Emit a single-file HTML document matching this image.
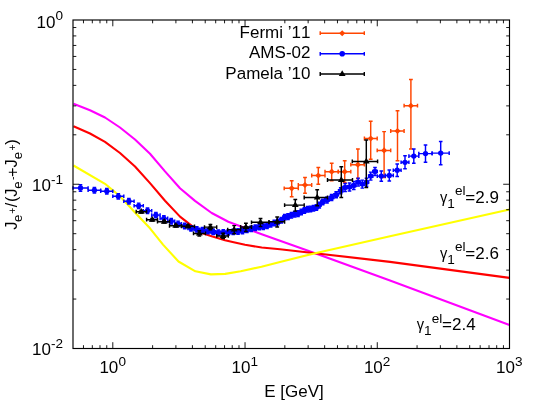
<!DOCTYPE html>
<html><head><meta charset="utf-8"><title>plot</title><style>html,body{margin:0;padding:0;background:#fff;}body{width:540px;height:403px;overflow:hidden;position:relative;font-family:"Liberation Sans",sans-serif;}</style></head><body>
<svg width="540" height="403" viewBox="0 0 540 403" style="position:absolute;left:0;top:0;will-change:transform">
<rect width="540" height="403" fill="#fff"/>
<path d="M73.5 103.8 L90.0 110.2 L105.0 117.5 L120.0 127.5 L135.0 139.5 L150.0 153.8 L165.0 171.4 L180.0 188.2 L195.0 200.9 L211.7 213.0 L228.3 221.8 L245.0 227.9 L261.7 234.2 L280.0 240.7 L315.1 253.2 L390.0 280.4 L509.5 325.0" fill="none" stroke="#ff00ff" stroke-width="2.1" stroke-linejoin="round"/>
<path d="M73.5 126.2 L90.0 133.5 L105.0 141.8 L120.0 153.0 L135.0 166.5 L150.0 183.1 L165.0 200.8 L180.0 216.6 L192.5 226.3 L203.3 233.6 L211.7 236.3 L225.0 240.2 L233.7 242.3 L245.0 244.8 L261.7 247.5 L280.0 249.2 L315.1 253.2 L390.0 261.9 L509.5 277.9" fill="none" stroke="#ff0000" stroke-width="2.1" stroke-linejoin="round"/>
<path d="M73.5 165.5 L105.0 183.8 L120.0 196.2 L135.0 212.5 L150.0 228.3 L163.0 244.6 L178.5 261.5 L195.4 271.3 L210.9 274.4 L225.2 273.9 L240.7 271.3 L261.5 266.7 L280.0 262.0 L315.1 253.2 L390.0 236.2 L509.5 209.6" fill="none" stroke="#ffff00" stroke-width="2.1" stroke-linejoin="round"/>
<path d="M284.2 188.3 H298.3 M284.2 186.4 V190.2 M298.3 186.4 V190.2 M291.7 180.8 V196.7 M289.8 180.8 H293.6 M289.8 196.7 H293.6" fill="none" stroke="#ff4500" stroke-width="1.45"/>
<path d="M288.6 188.3 L291.7 185.2 L294.8 188.3 L291.7 191.4 Z" fill="#ff4500"/>
<path d="M298.3 185.0 H311.7 M298.3 183.1 V186.9 M311.7 183.1 V186.9 M305.0 177.5 V193.3 M303.1 177.5 H306.9 M303.1 193.3 H306.9" fill="none" stroke="#ff4500" stroke-width="1.45"/>
<path d="M301.9 185.0 L305.0 181.9 L308.1 185.0 L305.0 188.1 Z" fill="#ff4500"/>
<path d="M311.7 175.5 H325.0 M311.7 173.6 V177.4 M325.0 173.6 V177.4 M318.3 167.5 V184.2 M316.4 167.5 H320.2 M316.4 184.2 H320.2" fill="none" stroke="#ff4500" stroke-width="1.45"/>
<path d="M315.2 175.5 L318.3 172.4 L321.4 175.5 L318.3 178.6 Z" fill="#ff4500"/>
<path d="M325.0 171.7 H338.3 M325.0 169.8 V173.6 M338.3 169.8 V173.6 M331.7 163.3 V180.8 M329.8 163.3 H333.6 M329.8 180.8 H333.6" fill="none" stroke="#ff4500" stroke-width="1.45"/>
<path d="M328.6 171.7 L331.7 168.6 L334.8 171.7 L331.7 174.8 Z" fill="#ff4500"/>
<path d="M338.3 171.7 H350.8 M338.3 169.8 V173.6 M350.8 169.8 V173.6 M344.7 160.8 V182.5 M342.8 160.8 H346.6 M342.8 182.5 H346.6" fill="none" stroke="#ff4500" stroke-width="1.45"/>
<path d="M341.6 171.7 L344.7 168.6 L347.8 171.7 L344.7 174.8 Z" fill="#ff4500"/>
<path d="M350.8 164.7 H364.4 M350.8 162.8 V166.6 M364.4 162.8 V166.6 M357.9 148.9 V178.5 M356.0 148.9 H359.8 M356.0 178.5 H359.8" fill="none" stroke="#ff4500" stroke-width="1.45"/>
<path d="M354.8 164.7 L357.9 161.6 L360.9 164.7 L357.9 167.8 Z" fill="#ff4500"/>
<path d="M364.4 138.5 H377.2 M364.4 136.6 V140.4 M377.2 136.6 V140.4 M370.7 121.2 V159.3 M368.8 121.2 H372.6 M368.8 159.3 H372.6" fill="none" stroke="#ff4500" stroke-width="1.45"/>
<path d="M367.6 138.5 L370.7 135.4 L373.8 138.5 L370.7 141.6 Z" fill="#ff4500"/>
<path d="M377.2 150.4 H390.7 M377.2 148.5 V152.3 M390.7 148.5 V152.3 M384.1 131.6 V177.5 M382.2 131.6 H386.0 M382.2 177.5 H386.0" fill="none" stroke="#ff4500" stroke-width="1.45"/>
<path d="M381.1 150.4 L384.1 147.3 L387.2 150.4 L384.1 153.5 Z" fill="#ff4500"/>
<path d="M390.7 131.0 H404.1 M390.7 129.1 V132.9 M404.1 129.1 V132.9 M397.5 110.8 V160.8 M395.6 110.8 H399.4 M395.6 160.8 H399.4" fill="none" stroke="#ff4500" stroke-width="1.45"/>
<path d="M394.4 131.0 L397.5 128.0 L400.6 131.0 L397.5 134.1 Z" fill="#ff4500"/>
<path d="M404.1 105.7 H417.5 M404.1 103.8 V107.6 M417.5 103.8 V107.6 M410.9 79.5 V148.9 M409.0 79.5 H412.8 M409.0 148.9 H412.8" fill="none" stroke="#ff4500" stroke-width="1.45"/>
<path d="M407.8 105.7 L410.9 102.7 L413.9 105.7 L410.9 108.8 Z" fill="#ff4500"/>
<path d="M73.0 188.0 H88.1 M73.0 186.2 V189.8 M88.1 186.2 V189.8 M80.5 184.8 V191.2 M78.7 184.8 H82.3 M78.7 191.2 H82.3" fill="none" stroke="#0000ff" stroke-width="1.45"/>
<path d="M88.1 190.2 H100.7 M88.1 188.4 V192.0 M100.7 188.4 V192.0 M94.4 187.5 V192.9 M92.6 187.5 H96.2 M92.6 192.9 H96.2" fill="none" stroke="#0000ff" stroke-width="1.45"/>
<path d="M100.7 191.2 H112.8 M100.7 189.4 V193.0 M112.8 189.4 V193.0 M106.8 188.5 V193.9 M105.0 188.5 H108.6 M105.0 193.9 H108.6" fill="none" stroke="#0000ff" stroke-width="1.45"/>
<path d="M112.8 196.3 H123.8 M112.8 194.5 V198.1 M123.8 194.5 V198.1 M118.3 193.6 V199.0 M116.5 193.6 H120.1 M116.5 199.0 H120.1" fill="none" stroke="#0000ff" stroke-width="1.45"/>
<path d="M123.8 201.2 H134.1 M123.8 199.4 V203.0 M134.1 199.4 V203.0 M128.9 198.5 V203.9 M127.1 198.5 H130.7 M127.1 203.9 H130.7" fill="none" stroke="#0000ff" stroke-width="1.45"/>
<path d="M134.1 205.8 H143.3 M134.1 204.0 V207.6 M143.3 204.0 V207.6 M138.7 203.1 V208.5 M136.9 203.1 H140.5 M136.9 208.5 H140.5" fill="none" stroke="#0000ff" stroke-width="1.45"/>
<path d="M143.3 210.7 H151.7 M143.3 208.9 V212.5 M151.7 208.9 V212.5 M147.5 208.0 V213.4 M145.7 208.0 H149.3 M145.7 213.4 H149.3" fill="none" stroke="#0000ff" stroke-width="1.45"/>
<path d="M151.7 215.1 H160.1 M151.7 213.3 V216.9 M160.1 213.3 V216.9 M155.9 212.4 V217.8 M154.1 212.4 H157.7 M154.1 217.8 H157.7" fill="none" stroke="#0000ff" stroke-width="1.45"/>
<path d="M160.1 218.4 H167.7 M160.1 216.6 V220.2 M167.7 216.6 V220.2 M163.9 215.7 V221.1 M162.1 215.7 H165.7 M162.1 221.1 H165.7" fill="none" stroke="#0000ff" stroke-width="1.45"/>
<path d="M167.7 221.2 H174.7 M167.7 219.4 V223.0 M174.7 219.4 V223.0 M171.2 218.5 V223.9 M169.4 218.5 H173.0 M169.4 223.9 H173.0" fill="none" stroke="#0000ff" stroke-width="1.45"/>
<path d="M174.7 223.8 H181.4 M174.7 222.0 V225.6 M181.4 222.0 V225.6 M178.1 221.1 V226.5 M176.3 221.1 H179.9 M176.3 226.5 H179.9" fill="none" stroke="#0000ff" stroke-width="1.45"/>
<path d="M181.4 226.0 H187.9 M181.4 224.2 V227.8 M187.9 224.2 V227.8 M184.7 223.3 V228.7 M182.9 223.3 H186.5 M182.9 228.7 H186.5" fill="none" stroke="#0000ff" stroke-width="1.45"/>
<path d="M187.9 228.4 H194.0 M187.9 226.6 V230.2 M194.0 226.6 V230.2 M191.0 225.7 V231.1 M189.2 225.7 H192.8 M189.2 231.1 H192.8" fill="none" stroke="#0000ff" stroke-width="1.45"/>
<path d="M194.0 229.4 H199.7 M194.0 227.6 V231.2 M199.7 227.6 V231.2 M196.8 226.7 V232.1 M195.0 226.7 H198.6 M195.0 232.1 H198.6" fill="none" stroke="#0000ff" stroke-width="1.45"/>
<path d="M199.7 230.1 H205.2 M199.7 228.3 V231.9 M205.2 228.3 V231.9 M202.5 227.4 V232.8 M200.7 227.4 H204.3 M200.7 232.8 H204.3" fill="none" stroke="#0000ff" stroke-width="1.45"/>
<path d="M205.2 231.1 H210.7 M205.2 229.3 V232.9 M210.7 229.3 V232.9 M208.0 228.4 V233.8 M206.2 228.4 H209.8 M206.2 233.8 H209.8" fill="none" stroke="#0000ff" stroke-width="1.45"/>
<path d="M210.7 231.9 H215.7 M210.7 230.1 V233.7 M215.7 230.1 V233.7 M213.2 229.2 V234.6 M211.4 229.2 H215.0 M211.4 234.6 H215.0" fill="none" stroke="#0000ff" stroke-width="1.45"/>
<path d="M215.7 232.6 H220.8 M215.7 230.8 V234.4 M220.8 230.8 V234.4 M218.3 229.9 V235.3 M216.5 229.9 H220.1 M216.5 235.3 H220.1" fill="none" stroke="#0000ff" stroke-width="1.45"/>
<path d="M220.8 232.4 H225.9 M220.8 230.6 V234.2 M225.9 230.6 V234.2 M223.3 229.7 V235.1 M221.5 229.7 H225.1 M221.5 235.1 H225.1" fill="none" stroke="#0000ff" stroke-width="1.45"/>
<path d="M225.9 232.4 H230.8 M225.9 230.6 V234.2 M230.8 230.6 V234.2 M228.3 229.7 V235.1 M226.5 229.7 H230.1 M226.5 235.1 H230.1" fill="none" stroke="#0000ff" stroke-width="1.45"/>
<path d="M230.8 231.9 H235.7 M230.8 230.1 V233.7 M235.7 230.1 V233.7 M233.2 229.2 V234.6 M231.4 229.2 H235.0 M231.4 234.6 H235.0" fill="none" stroke="#0000ff" stroke-width="1.45"/>
<path d="M235.7 231.5 H240.3 M235.7 229.7 V233.3 M240.3 229.7 V233.3 M238.0 228.8 V234.2 M236.2 228.8 H239.8 M236.2 234.2 H239.8" fill="none" stroke="#0000ff" stroke-width="1.45"/>
<path d="M240.3 231.0 H244.7 M240.3 229.2 V232.8 M244.7 229.2 V232.8 M242.5 228.3 V233.7 M240.7 228.3 H244.3 M240.7 233.7 H244.3" fill="none" stroke="#0000ff" stroke-width="1.45"/>
<path d="M244.7 229.9 H249.1 M244.7 228.1 V231.7 M249.1 228.1 V231.7 M246.9 227.2 V232.6 M245.1 227.2 H248.7 M245.1 232.6 H248.7" fill="none" stroke="#0000ff" stroke-width="1.45"/>
<path d="M249.1 228.7 H253.3 M249.1 226.9 V230.5 M253.3 226.9 V230.5 M251.2 226.0 V231.4 M249.4 226.0 H253.0 M249.4 231.4 H253.0" fill="none" stroke="#0000ff" stroke-width="1.45"/>
<path d="M253.3 227.7 H257.3 M253.3 225.9 V229.5 M257.3 225.9 V229.5 M255.3 225.0 V230.4 M253.5 225.0 H257.1 M253.5 230.4 H257.1" fill="none" stroke="#0000ff" stroke-width="1.45"/>
<path d="M257.3 227.0 H261.3 M257.3 225.2 V228.8 M261.3 225.2 V228.8 M259.3 224.3 V229.7 M257.5 224.3 H261.1 M257.5 229.7 H261.1" fill="none" stroke="#0000ff" stroke-width="1.45"/>
<path d="M261.3 226.7 H265.1 M261.3 224.9 V228.5 M265.1 224.9 V228.5 M263.2 224.0 V229.4 M261.4 224.0 H265.0 M261.4 229.4 H265.0" fill="none" stroke="#0000ff" stroke-width="1.45"/>
<path d="M265.1 225.7 H268.9 M265.1 223.9 V227.5 M268.9 223.9 V227.5 M267.0 223.0 V228.4 M265.2 223.0 H268.8 M265.2 228.4 H268.8" fill="none" stroke="#0000ff" stroke-width="1.45"/>
<path d="M268.9 224.3 H272.6 M268.9 222.5 V226.1 M272.6 222.5 V226.1 M270.7 221.6 V227.0 M268.9 221.6 H272.5 M268.9 227.0 H272.5" fill="none" stroke="#0000ff" stroke-width="1.45"/>
<path d="M272.6 223.0 H276.1 M272.6 221.2 V224.8 M276.1 221.2 V224.8 M274.3 220.3 V225.7 M272.5 220.3 H276.1 M272.5 225.7 H276.1" fill="none" stroke="#0000ff" stroke-width="1.45"/>
<path d="M276.1 222.0 H279.6 M276.1 220.2 V223.8 M279.6 220.2 V223.8 M277.8 219.3 V224.7 M276.0 219.3 H279.6 M276.0 224.7 H279.6" fill="none" stroke="#0000ff" stroke-width="1.45"/>
<path d="M279.6 220.2 H283.0 M279.6 218.4 V222.0 M283.0 218.4 V222.0 M281.3 217.5 V222.9 M279.5 217.5 H283.1 M279.5 222.9 H283.1" fill="none" stroke="#0000ff" stroke-width="1.45"/>
<path d="M283.0 217.1 H286.4 M283.0 215.3 V218.9 M286.4 215.3 V218.9 M284.7 214.4 V219.8 M282.9 214.4 H286.5 M282.9 219.8 H286.5" fill="none" stroke="#0000ff" stroke-width="1.45"/>
<path d="M286.4 216.6 H289.7 M286.4 214.8 V218.4 M289.7 214.8 V218.4 M288.0 213.8 V219.4 M286.2 213.8 H289.8 M286.2 219.4 H289.8" fill="none" stroke="#0000ff" stroke-width="1.45"/>
<path d="M289.7 215.3 H293.0 M289.7 213.5 V217.1 M293.0 213.5 V217.1 M291.4 212.5 V218.1 M289.6 212.5 H293.2 M289.6 218.1 H293.2" fill="none" stroke="#0000ff" stroke-width="1.45"/>
<path d="M293.0 214.3 H296.4 M293.0 212.5 V216.1 M296.4 212.5 V216.1 M294.7 211.5 V217.1 M292.9 211.5 H296.5 M292.9 217.1 H296.5" fill="none" stroke="#0000ff" stroke-width="1.45"/>
<path d="M296.4 213.6 H299.6 M296.4 211.8 V215.4 M299.6 211.8 V215.4 M298.0 210.8 V216.4 M296.2 210.8 H299.8 M296.2 216.4 H299.8" fill="none" stroke="#0000ff" stroke-width="1.45"/>
<path d="M299.6 211.9 H302.8 M299.6 210.1 V213.7 M302.8 210.1 V213.7 M301.2 209.1 V214.7 M299.4 209.1 H303.0 M299.4 214.7 H303.0" fill="none" stroke="#0000ff" stroke-width="1.45"/>
<path d="M302.8 210.4 H305.9 M302.8 208.6 V212.2 M305.9 208.6 V212.2 M304.4 207.6 V213.2 M302.6 207.6 H306.2 M302.6 213.2 H306.2" fill="none" stroke="#0000ff" stroke-width="1.45"/>
<path d="M305.9 209.3 H309.0 M305.9 207.5 V211.1 M309.0 207.5 V211.1 M307.5 206.5 V212.1 M305.7 206.5 H309.3 M305.7 212.1 H309.3" fill="none" stroke="#0000ff" stroke-width="1.45"/>
<path d="M309.0 208.9 H312.0 M309.0 207.1 V210.7 M312.0 207.1 V210.7 M310.5 206.1 V211.7 M308.7 206.1 H312.3 M308.7 211.7 H312.3" fill="none" stroke="#0000ff" stroke-width="1.45"/>
<path d="M312.0 208.2 H315.0 M312.0 206.4 V210.0 M315.0 206.4 V210.0 M313.5 205.4 V211.0 M311.7 205.4 H315.3 M311.7 211.0 H315.3" fill="none" stroke="#0000ff" stroke-width="1.45"/>
<path d="M315.0 207.4 H317.9 M315.0 205.6 V209.2 M317.9 205.6 V209.2 M316.4 204.6 V210.2 M314.6 204.6 H318.2 M314.6 210.2 H318.2" fill="none" stroke="#0000ff" stroke-width="1.45"/>
<path d="M317.9 205.1 H320.8 M317.9 203.3 V206.9 M320.8 203.3 V206.9 M319.3 202.3 V207.9 M317.5 202.3 H321.1 M317.5 207.9 H321.1" fill="none" stroke="#0000ff" stroke-width="1.45"/>
<path d="M320.8 202.0 H324.6 M320.8 200.2 V203.8 M324.6 200.2 V203.8 M322.7 199.2 V204.8 M320.9 199.2 H324.5 M320.9 204.8 H324.5" fill="none" stroke="#0000ff" stroke-width="1.45"/>
<path d="M324.6 199.9 H329.3 M324.6 198.1 V201.7 M329.3 198.1 V201.7 M327.0 196.9 V202.9 M325.2 196.9 H328.8 M325.2 202.9 H328.8" fill="none" stroke="#0000ff" stroke-width="1.45"/>
<path d="M329.3 197.5 H333.9 M329.3 195.7 V199.3 M333.9 195.7 V199.3 M331.6 194.5 V200.5 M329.8 194.5 H333.4 M329.8 200.5 H333.4" fill="none" stroke="#0000ff" stroke-width="1.45"/>
<path d="M333.9 194.7 H338.5 M333.9 192.9 V196.5 M338.5 192.9 V196.5 M336.2 191.7 V197.7 M334.4 191.7 H338.0 M334.4 197.7 H338.0" fill="none" stroke="#0000ff" stroke-width="1.45"/>
<path d="M338.5 190.8 H342.9 M338.5 189.0 V192.6 M342.9 189.0 V192.6 M340.7 187.8 V193.8 M338.9 187.8 H342.5 M338.9 193.8 H342.5" fill="none" stroke="#0000ff" stroke-width="1.45"/>
<path d="M342.9 187.5 H347.3 M342.9 185.7 V189.3 M347.3 185.7 V189.3 M345.1 183.5 V191.5 M343.3 183.5 H346.9 M343.3 191.5 H346.9" fill="none" stroke="#0000ff" stroke-width="1.45"/>
<path d="M347.3 186.9 H351.7 M347.3 185.1 V188.7 M351.7 185.1 V188.7 M349.5 182.9 V190.9 M347.7 182.9 H351.3 M347.7 190.9 H351.3" fill="none" stroke="#0000ff" stroke-width="1.45"/>
<path d="M351.7 185.5 H356.0 M351.7 183.7 V187.3 M356.0 183.7 V187.3 M353.8 181.5 V189.5 M352.0 181.5 H355.6 M352.0 189.5 H355.6" fill="none" stroke="#0000ff" stroke-width="1.45"/>
<path d="M356.0 182.1 H360.2 M356.0 180.3 V183.9 M360.2 180.3 V183.9 M358.1 178.1 V186.1 M356.3 178.1 H359.9 M356.3 186.1 H359.9" fill="none" stroke="#0000ff" stroke-width="1.45"/>
<path d="M360.2 184.1 H364.5 M360.2 182.3 V185.9 M364.5 182.3 V185.9 M362.3 180.1 V188.1 M360.5 180.1 H364.1 M360.5 188.1 H364.1" fill="none" stroke="#0000ff" stroke-width="1.45"/>
<path d="M364.5 182.2 H368.6 M364.5 180.4 V184.0 M368.6 180.4 V184.0 M366.5 178.2 V186.2 M364.7 178.2 H368.3 M364.7 186.2 H368.3" fill="none" stroke="#0000ff" stroke-width="1.45"/>
<path d="M368.6 176.1 H372.8 M368.6 174.3 V177.9 M372.8 174.3 V177.9 M370.7 172.1 V180.1 M368.9 172.1 H372.5 M368.9 180.1 H372.5" fill="none" stroke="#0000ff" stroke-width="1.45"/>
<path d="M372.8 171.5 H377.3 M372.8 169.7 V173.3 M377.3 169.7 V173.3 M375.0 167.5 V175.5 M373.2 167.5 H376.8 M373.2 175.5 H376.8" fill="none" stroke="#0000ff" stroke-width="1.45"/>
<path d="M377.3 176.1 H385.3 M377.3 174.3 V177.9 M385.3 174.3 V177.9 M381.3 170.9 V181.3 M379.5 170.9 H383.1 M379.5 181.3 H383.1" fill="none" stroke="#0000ff" stroke-width="1.45"/>
<path d="M385.3 175.4 H393.3 M385.3 173.6 V177.2 M393.3 173.6 V177.2 M389.3 169.9 V180.9 M387.5 169.9 H391.1 M387.5 180.9 H391.1" fill="none" stroke="#0000ff" stroke-width="1.45"/>
<path d="M393.3 170.2 H401.1 M393.3 168.4 V172.0 M401.1 168.4 V172.0 M397.2 164.0 V176.4 M395.4 164.0 H399.0 M395.4 176.4 H399.0" fill="none" stroke="#0000ff" stroke-width="1.45"/>
<path d="M401.1 162.3 H408.9 M401.1 160.5 V164.1 M408.9 160.5 V164.1 M405.0 155.8 V168.8 M403.2 155.8 H406.8 M403.2 168.8 H406.8" fill="none" stroke="#0000ff" stroke-width="1.45"/>
<path d="M408.9 156.1 H418.8 M408.9 154.3 V157.9 M418.8 154.3 V157.9 M413.8 148.9 V163.3 M412.0 148.9 H415.6 M412.0 163.3 H415.6" fill="none" stroke="#0000ff" stroke-width="1.45"/>
<path d="M418.8 153.6 H432.1 M418.8 151.8 V155.4 M432.1 151.8 V155.4 M425.5 145.0 V162.2 M423.7 145.0 H427.3 M423.7 162.2 H427.3" fill="none" stroke="#0000ff" stroke-width="1.45"/>
<path d="M432.1 153.1 H449.2 M432.1 151.3 V154.9 M449.2 151.3 V154.9 M440.7 141.5 V164.7 M438.9 141.5 H442.5 M438.9 164.7 H442.5" fill="none" stroke="#0000ff" stroke-width="1.45"/>
<circle cx="80.5" cy="188.0" r="2.65" fill="#0000ff"/>
<circle cx="94.4" cy="190.2" r="2.65" fill="#0000ff"/>
<circle cx="106.8" cy="191.2" r="2.65" fill="#0000ff"/>
<circle cx="118.3" cy="196.3" r="2.65" fill="#0000ff"/>
<circle cx="128.9" cy="201.2" r="2.65" fill="#0000ff"/>
<circle cx="138.7" cy="205.8" r="2.65" fill="#0000ff"/>
<circle cx="147.5" cy="210.7" r="2.65" fill="#0000ff"/>
<circle cx="155.9" cy="215.1" r="2.65" fill="#0000ff"/>
<circle cx="163.9" cy="218.4" r="2.65" fill="#0000ff"/>
<circle cx="171.2" cy="221.2" r="2.65" fill="#0000ff"/>
<circle cx="178.1" cy="223.8" r="2.65" fill="#0000ff"/>
<circle cx="184.7" cy="226.0" r="2.65" fill="#0000ff"/>
<circle cx="191.0" cy="228.4" r="2.65" fill="#0000ff"/>
<circle cx="196.8" cy="229.4" r="2.65" fill="#0000ff"/>
<circle cx="202.5" cy="230.1" r="2.65" fill="#0000ff"/>
<circle cx="208.0" cy="231.1" r="2.65" fill="#0000ff"/>
<circle cx="213.2" cy="231.9" r="2.65" fill="#0000ff"/>
<circle cx="218.3" cy="232.6" r="2.65" fill="#0000ff"/>
<circle cx="223.3" cy="232.4" r="2.65" fill="#0000ff"/>
<circle cx="228.3" cy="232.4" r="2.65" fill="#0000ff"/>
<circle cx="233.2" cy="231.9" r="2.65" fill="#0000ff"/>
<circle cx="238.0" cy="231.5" r="2.65" fill="#0000ff"/>
<circle cx="242.5" cy="231.0" r="2.65" fill="#0000ff"/>
<circle cx="246.9" cy="229.9" r="2.65" fill="#0000ff"/>
<circle cx="251.2" cy="228.7" r="2.65" fill="#0000ff"/>
<circle cx="255.3" cy="227.7" r="2.65" fill="#0000ff"/>
<circle cx="259.3" cy="227.0" r="2.65" fill="#0000ff"/>
<circle cx="263.2" cy="226.7" r="2.65" fill="#0000ff"/>
<circle cx="267.0" cy="225.7" r="2.65" fill="#0000ff"/>
<circle cx="270.7" cy="224.3" r="2.65" fill="#0000ff"/>
<circle cx="274.3" cy="223.0" r="2.65" fill="#0000ff"/>
<circle cx="277.8" cy="222.0" r="2.65" fill="#0000ff"/>
<circle cx="281.3" cy="220.2" r="2.65" fill="#0000ff"/>
<circle cx="284.7" cy="217.1" r="2.65" fill="#0000ff"/>
<circle cx="288.0" cy="216.6" r="2.65" fill="#0000ff"/>
<circle cx="291.4" cy="215.3" r="2.65" fill="#0000ff"/>
<circle cx="294.7" cy="214.3" r="2.65" fill="#0000ff"/>
<circle cx="298.0" cy="213.6" r="2.65" fill="#0000ff"/>
<circle cx="301.2" cy="211.9" r="2.65" fill="#0000ff"/>
<circle cx="304.4" cy="210.4" r="2.65" fill="#0000ff"/>
<circle cx="307.5" cy="209.3" r="2.65" fill="#0000ff"/>
<circle cx="310.5" cy="208.9" r="2.65" fill="#0000ff"/>
<circle cx="313.5" cy="208.2" r="2.65" fill="#0000ff"/>
<circle cx="316.4" cy="207.4" r="2.65" fill="#0000ff"/>
<circle cx="319.3" cy="205.1" r="2.65" fill="#0000ff"/>
<circle cx="322.7" cy="202.0" r="2.65" fill="#0000ff"/>
<circle cx="327.0" cy="199.9" r="2.65" fill="#0000ff"/>
<circle cx="331.6" cy="197.5" r="2.65" fill="#0000ff"/>
<circle cx="336.2" cy="194.7" r="2.65" fill="#0000ff"/>
<circle cx="340.7" cy="190.8" r="2.65" fill="#0000ff"/>
<circle cx="345.1" cy="187.5" r="2.65" fill="#0000ff"/>
<circle cx="349.5" cy="186.9" r="2.65" fill="#0000ff"/>
<circle cx="353.8" cy="185.5" r="2.65" fill="#0000ff"/>
<circle cx="358.1" cy="182.1" r="2.65" fill="#0000ff"/>
<circle cx="362.3" cy="184.1" r="2.65" fill="#0000ff"/>
<circle cx="366.5" cy="182.2" r="2.65" fill="#0000ff"/>
<circle cx="370.7" cy="176.1" r="2.65" fill="#0000ff"/>
<circle cx="375.0" cy="171.5" r="2.65" fill="#0000ff"/>
<circle cx="381.3" cy="176.1" r="2.65" fill="#0000ff"/>
<circle cx="389.3" cy="175.4" r="2.65" fill="#0000ff"/>
<circle cx="397.2" cy="170.2" r="2.65" fill="#0000ff"/>
<circle cx="405.0" cy="162.3" r="2.65" fill="#0000ff"/>
<circle cx="413.8" cy="156.1" r="2.65" fill="#0000ff"/>
<circle cx="425.5" cy="153.6" r="2.65" fill="#0000ff"/>
<circle cx="440.7" cy="153.1" r="2.65" fill="#0000ff"/>
<path d="M136.2 211.7 H146.6 M136.2 209.8 V213.6 M146.6 209.8 V213.6 M141.3 210.4 V213.0 M139.4 210.4 H143.2 M139.4 213.0 H143.2" fill="none" stroke="#000" stroke-width="1.45"/>
<path d="M137.9 213.7 L144.7 213.7 L141.3 208.0 Z" fill="#000"/>
<path d="M146.6 219.7 H157.5 M146.6 217.8 V221.6 M157.5 217.8 V221.6 M152.2 218.4 V221.0 M150.3 218.4 H154.1 M150.3 221.0 H154.1" fill="none" stroke="#000" stroke-width="1.45"/>
<path d="M148.8 221.7 L155.6 221.7 L152.2 216.0 Z" fill="#000"/>
<path d="M157.5 221.7 H169.5 M157.5 219.8 V223.6 M169.5 219.8 V223.6 M164.2 220.4 V223.0 M162.3 220.4 H166.1 M162.3 223.0 H166.1" fill="none" stroke="#000" stroke-width="1.45"/>
<path d="M160.8 223.7 L167.6 223.7 L164.2 218.0 Z" fill="#000"/>
<path d="M169.5 225.8 H181.5 M169.5 223.9 V227.7 M181.5 223.9 V227.7 M175.8 224.5 V227.1 M173.9 224.5 H177.7 M173.9 227.1 H177.7" fill="none" stroke="#000" stroke-width="1.45"/>
<path d="M172.4 227.8 L179.2 227.8 L175.8 222.1 Z" fill="#000"/>
<path d="M181.5 226.3 H194.5 M181.5 224.4 V228.2 M194.5 224.4 V228.2 M188.0 225.0 V227.6 M186.1 225.0 H189.9 M186.1 227.6 H189.9" fill="none" stroke="#000" stroke-width="1.45"/>
<path d="M184.6 228.3 L191.4 228.3 L188.0 222.6 Z" fill="#000"/>
<path d="M193.5 233.4 H205.5 M193.5 231.5 V235.3 M205.5 231.5 V235.3 M199.3 230.8 V236.0 M197.4 230.8 H201.2 M197.4 236.0 H201.2" fill="none" stroke="#000" stroke-width="1.45"/>
<path d="M195.9 235.4 L202.7 235.4 L199.3 229.7 Z" fill="#000"/>
<path d="M204.5 227.1 H216.7 M204.5 225.2 V229.0 M216.7 225.2 V229.0 M210.4 224.5 V229.7 M208.5 224.5 H212.3 M208.5 229.7 H212.3" fill="none" stroke="#000" stroke-width="1.45"/>
<path d="M207.0 229.1 L213.8 229.1 L210.4 223.4 Z" fill="#000"/>
<path d="M216.7 235.9 H228.3 M216.7 234.0 V237.8 M228.3 234.0 V237.8 M223.1 233.3 V238.5 M221.2 233.3 H225.0 M221.2 238.5 H225.0" fill="none" stroke="#000" stroke-width="1.45"/>
<path d="M219.7 237.9 L226.5 237.9 L223.1 232.2 Z" fill="#000"/>
<path d="M227.7 229.6 H240.6 M227.7 227.7 V231.5 M240.6 227.7 V231.5 M234.2 225.6 V233.7 M232.3 225.6 H236.1 M232.3 233.7 H236.1" fill="none" stroke="#000" stroke-width="1.45"/>
<path d="M230.8 231.6 L237.6 231.6 L234.2 225.9 Z" fill="#000"/>
<path d="M240.6 227.0 H251.5 M240.6 225.1 V228.9 M251.5 225.1 V228.9 M245.9 223.3 V231.5 M244.0 223.3 H247.8 M244.0 231.5 H247.8" fill="none" stroke="#000" stroke-width="1.45"/>
<path d="M242.5 229.0 L249.3 229.0 L245.9 223.3 Z" fill="#000"/>
<path d="M251.5 222.3 H269.0 M251.5 220.4 V224.2 M269.0 220.4 V224.2 M260.5 218.4 V226.6 M258.6 218.4 H262.4 M258.6 226.6 H262.4" fill="none" stroke="#000" stroke-width="1.45"/>
<path d="M257.1 224.3 L263.9 224.3 L260.5 218.6 Z" fill="#000"/>
<path d="M269.0 221.8 H284.6 M269.0 219.9 V223.7 M284.6 219.9 V223.7 M277.2 217.0 V227.0 M275.3 217.0 H279.1 M275.3 227.0 H279.1" fill="none" stroke="#000" stroke-width="1.45"/>
<path d="M273.8 223.8 L280.6 223.8 L277.2 218.1 Z" fill="#000"/>
<path d="M284.6 205.1 H304.2 M284.6 203.2 V207.0 M304.2 203.2 V207.0 M295.3 199.5 V211.1 M293.4 199.5 H297.2 M293.4 211.1 H297.2" fill="none" stroke="#000" stroke-width="1.45"/>
<path d="M291.9 207.1 L298.7 207.1 L295.3 201.4 Z" fill="#000"/>
<path d="M304.2 197.5 H327.5 M304.2 195.6 V199.4 M327.5 195.6 V199.4 M317.2 189.7 V205.8 M315.3 189.7 H319.1 M315.3 205.8 H319.1" fill="none" stroke="#000" stroke-width="1.45"/>
<path d="M313.8 199.5 L320.6 199.5 L317.2 193.8 Z" fill="#000"/>
<path d="M327.5 180.0 H352.5 M327.5 178.1 V181.9 M352.5 178.1 V181.9 M341.3 166.7 V197.5 M339.4 166.7 H343.2 M339.4 197.5 H343.2" fill="none" stroke="#000" stroke-width="1.45"/>
<path d="M337.9 182.0 L344.7 182.0 L341.3 176.3 Z" fill="#000"/>
<path d="M352.3 161.4 H377.6 M352.3 159.5 V163.3 M377.6 159.5 V163.3 M366.3 140.0 V187.6 M364.4 140.0 H368.2 M364.4 187.6 H368.2" fill="none" stroke="#000" stroke-width="1.45"/>
<path d="M362.9 163.4 L369.7 163.4 L366.3 157.7 Z" fill="#000"/>
<path d="M320.2 33.2 H364.3 M320.2 31.3 V35.1 M364.3 31.3 V35.1" fill="none" stroke="#ff4500" stroke-width="1.4"/>
<path d="M339.1 33.2 L342.2 30.2 L345.2 33.2 L342.2 36.2 Z" fill="#ff4500"/>
<path d="M320.2 53.8 H364.3 M320.2 51.9 V55.7 M364.3 51.9 V55.7" fill="none" stroke="#0000ff" stroke-width="1.4"/>
<circle cx="342.2" cy="53.8" r="2.8" fill="#0000ff"/>
<path d="M320.2 74.0 H364.3 M320.2 72.1 V75.9 M364.3 72.1 V75.9" fill="none" stroke="#000" stroke-width="1.4"/>
<path d="M338.8 76.0 L345.6 76.0 L342.2 70.3 Z" fill="#000"/>
<path d="M83.47 348.50 v-3.3 M83.47 20.00 v3.3 M92.32 348.50 v-3.3 M92.32 20.00 v3.3 M99.99 348.50 v-3.3 M99.99 20.00 v3.3 M106.76 348.50 v-3.3 M106.76 20.00 v3.3 M112.81 348.50 v-6.3 M112.81 20.00 v6.3 M152.61 348.50 v-3.3 M152.61 20.00 v3.3 M175.90 348.50 v-3.3 M175.90 20.00 v3.3 M192.42 348.50 v-3.3 M192.42 20.00 v3.3 M205.23 348.50 v-3.3 M205.23 20.00 v3.3 M215.70 348.50 v-3.3 M215.70 20.00 v3.3 M224.55 348.50 v-3.3 M224.55 20.00 v3.3 M232.22 348.50 v-3.3 M232.22 20.00 v3.3 M238.99 348.50 v-3.3 M238.99 20.00 v3.3 M245.04 348.50 v-6.3 M245.04 20.00 v6.3 M284.84 348.50 v-3.3 M284.84 20.00 v3.3 M308.13 348.50 v-3.3 M308.13 20.00 v3.3 M324.65 348.50 v-3.3 M324.65 20.00 v3.3 M337.46 348.50 v-3.3 M337.46 20.00 v3.3 M347.93 348.50 v-3.3 M347.93 20.00 v3.3 M356.79 348.50 v-3.3 M356.79 20.00 v3.3 M364.45 348.50 v-3.3 M364.45 20.00 v3.3 M371.22 348.50 v-3.3 M371.22 20.00 v3.3 M377.27 348.50 v-6.3 M377.27 20.00 v6.3 M417.07 348.50 v-3.3 M417.07 20.00 v3.3 M440.36 348.50 v-3.3 M440.36 20.00 v3.3 M456.88 348.50 v-3.3 M456.88 20.00 v3.3 M469.69 348.50 v-3.3 M469.69 20.00 v3.3 M480.16 348.50 v-3.3 M480.16 20.00 v3.3 M489.02 348.50 v-3.3 M489.02 20.00 v3.3 M496.69 348.50 v-3.3 M496.69 20.00 v3.3 M503.45 348.50 v-3.3 M503.45 20.00 v3.3 M73.00 299.06 h3.3 M509.50 299.06 h-3.3 M73.00 270.13 h3.3 M509.50 270.13 h-3.3 M73.00 249.61 h3.3 M509.50 249.61 h-3.3 M73.00 233.69 h3.3 M509.50 233.69 h-3.3 M73.00 220.69 h3.3 M509.50 220.69 h-3.3 M73.00 209.69 h3.3 M509.50 209.69 h-3.3 M73.00 200.17 h3.3 M509.50 200.17 h-3.3 M73.00 191.77 h3.3 M509.50 191.77 h-3.3 M73.00 184.25 h6.3 M509.50 184.25 h-6.3 M73.00 134.81 h3.3 M509.50 134.81 h-3.3 M73.00 105.88 h3.3 M509.50 105.88 h-3.3 M73.00 85.36 h3.3 M509.50 85.36 h-3.3 M73.00 69.44 h3.3 M509.50 69.44 h-3.3 M73.00 56.44 h3.3 M509.50 56.44 h-3.3 M73.00 45.44 h3.3 M509.50 45.44 h-3.3 M73.00 35.92 h3.3 M509.50 35.92 h-3.3 M73.00 27.52 h3.3 M509.50 27.52 h-3.3" fill="none" stroke="#000" stroke-width="0.9"/>
<rect x="73.0" y="20.0" width="436.5" height="328.5" fill="none" stroke="#000" stroke-width="1.15"/>
<g font-family="Liberation Sans, sans-serif" font-size="16.3" fill="#000" style="font-kerning:none">
<text transform="translate(36.6 27.5) scale(1.045 1)">10</text>
<text transform="translate(55.5 20.3) scale(1.045 1)" font-size="13.0">0</text>
<text transform="translate(32.1 191.0) scale(1.045 1)">10</text>
<text transform="translate(51.0 183.8) scale(1.045 1)" font-size="13.0">-1</text>
<text transform="translate(32.1 355.3) scale(1.045 1)">10</text>
<text transform="translate(51.0 348.1) scale(1.045 1)" font-size="13.0">-2</text>
<text transform="translate(99.4 372.7) scale(1.045 1)">10</text>
<text transform="translate(118.4 365.5) scale(1.045 1)" font-size="13.0">0</text>
<text transform="translate(231.6 372.7) scale(1.045 1)">10</text>
<text transform="translate(250.6 365.5) scale(1.045 1)" font-size="13.0">1</text>
<text transform="translate(363.9 372.7) scale(1.045 1)">10</text>
<text transform="translate(382.8 365.5) scale(1.045 1)" font-size="13.0">2</text>
<text transform="translate(496.1 372.7) scale(1.045 1)">10</text>
<text transform="translate(515.0 365.5) scale(1.045 1)" font-size="13.0">3</text>
<text transform="translate(294.0 396.7) scale(1.045 1)" text-anchor="middle">E [GeV]</text>
<text transform="translate(310.5 38.3) scale(1.045 1)" text-anchor="end">Fermi ’11</text>
<text transform="translate(310.5 58.4) scale(1.045 1)" text-anchor="end">AMS-02</text>
<text transform="translate(310.5 79.4) scale(1.045 1)" text-anchor="end">Pamela ’10</text>
<text transform="translate(440.0 202.7) scale(0.900 1)">γ</text>
<text transform="translate(447.2 207.7) scale(1.045 1)" font-size="13.0">1</text>
<text transform="translate(454.9 195.4) scale(1.045 1)" font-size="13.0">el</text>
<text transform="translate(465.3 202.7) scale(1.045 1)">=2.9</text>
<text transform="translate(440.0 258.5) scale(0.900 1)">γ</text>
<text transform="translate(447.2 263.5) scale(1.045 1)" font-size="13.0">1</text>
<text transform="translate(454.9 251.2) scale(1.045 1)" font-size="13.0">el</text>
<text transform="translate(465.3 258.5) scale(1.045 1)">=2.6</text>
<text transform="translate(416.8 330.0) scale(0.900 1)">γ</text>
<text transform="translate(424.0 335.0) scale(1.045 1)" font-size="13.0">1</text>
<text transform="translate(431.7 322.7) scale(1.045 1)" font-size="13.0">el</text>
<text transform="translate(442.1 330.0) scale(1.045 1)">=2.4</text>
<g transform="translate(17.1,229.8) rotate(-90)">
<text transform="translate(0.0 0.0) scale(1 1.045)" font-size="16.3">J</text>
<text transform="translate(7.9 5.2) scale(1 1.045)" font-size="13.0">e</text>
<text transform="translate(16.1 -0.9) scale(1 1.045)" font-size="10.4">+</text>
<text transform="translate(22.6 0.0) scale(1 1.045)" font-size="16.3">/</text>
<text transform="translate(27.7 0.0) scale(1 1.045)" font-size="16.3">(</text>
<text transform="translate(33.0 0.0) scale(1 1.045)" font-size="16.3">J</text>
<text transform="translate(41.0 5.2) scale(1 1.045)" font-size="13.0">e</text>
<text transform="translate(49.7 -0.9) scale(1 1.045)" font-size="10.4">-</text>
<text transform="translate(52.8 0.6) scale(1 1.045)" font-size="16.3">+</text>
<text transform="translate(62.4 0.0) scale(1 1.045)" font-size="16.3">J</text>
<text transform="translate(70.6 5.2) scale(1 1.045)" font-size="13.0">e</text>
<text transform="translate(79.2 -0.9) scale(1 1.045)" font-size="10.4">+</text>
<text transform="translate(85.0 0.0) scale(1 1.045)" font-size="16.3">)</text>
</g>
</g>
</svg>
</body></html>
